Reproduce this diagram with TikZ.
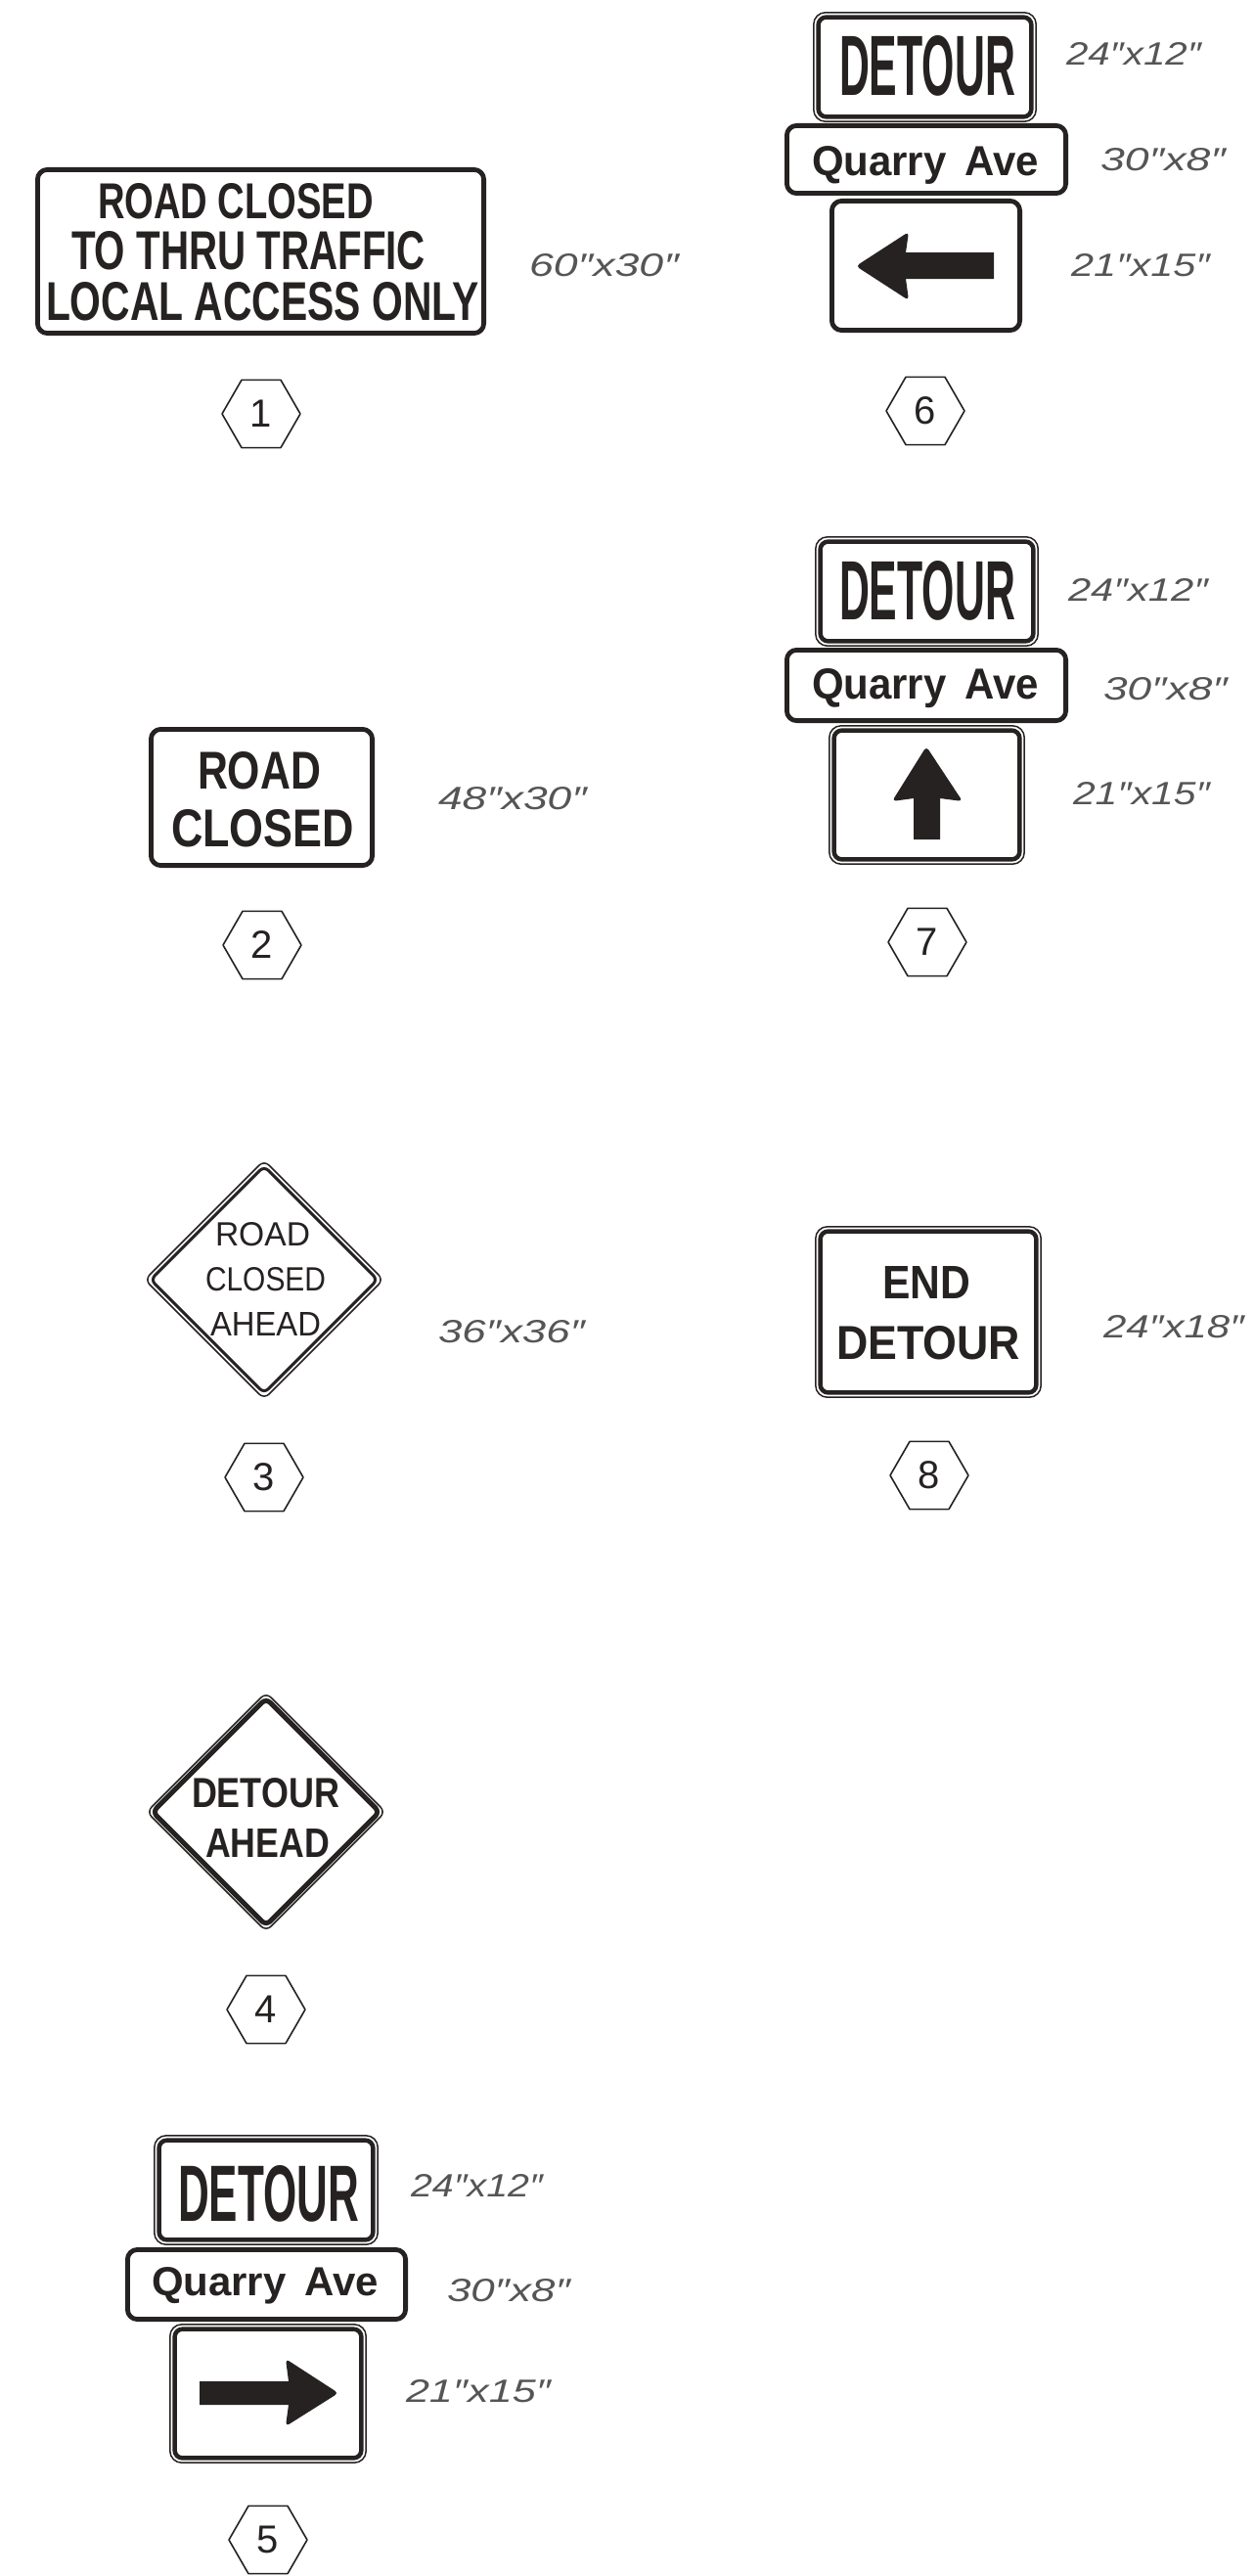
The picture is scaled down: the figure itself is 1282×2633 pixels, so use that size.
\documentclass[tikz,border=0pt]{standalone}
\usepackage{fontspec}
\setmainfont{Liberation Sans}
\usepackage{graphicx}
\usetikzlibrary{shapes.geometric}
\definecolor{ink}{RGB}{38,34,34}
\definecolor{dimink}{RGB}{85,85,85}
\newcommand{\fitb}[3]{\resizebox{#1pt}{#2pt}{\bfseries #3}}
\newcommand{\fitr}[3]{\resizebox{#1pt}{#2pt}{#3}}
\newcommand{\fiti}[3]{\resizebox{#1pt}{#2pt}{\itshape #3}}
% single thick frame, outer edge given
\newcommand{\signsgl}[4]{\draw[thickframe] ({#1+2.4},{#2+2.4}) rectangle ({#3-2.4},{#4-2.4});}
% double frame, outer edge given
\newcommand{\signdbl}[4]{%
  \draw[thinframe] ({#1+0.8},{#2+0.8}) rectangle ({#3-0.8},{#4-0.8});
  \draw[innerframe] ({#1+5.6},{#2+5.6}) rectangle ({#3-5.6},{#4-5.6});}
% diamond: centre, inner line width
\newcommand{\signdiamond}[3]{%
  \draw[draw=ink,line width=1.5pt,rounded corners=7pt] ({#1-122},#2) -- (#1,{#2-122}) -- ({#1+122},#2) -- (#1,{#2+122}) -- cycle;
  \draw[draw=ink,line width=#3,rounded corners=6pt] ({#1-116},#2) -- (#1,{#2-116}) -- ({#1+116},#2) -- (#1,{#2+116}) -- cycle;}
\begin{document}
\begin{tikzpicture}[x=1pt,y=-1pt,line join=round,
  signtxt/.style={inner sep=0pt,outer sep=0pt,anchor=base west,text=ink},
  dimtxt/.style={inner sep=0pt,outer sep=0pt,anchor=base west,text=dimink},
  thickframe/.style={draw=ink,line width=4.8pt,rounded corners=10pt},
  thinframe/.style={draw=ink,line width=1.5pt,rounded corners=12pt},
  innerframe/.style={draw=ink,line width=4.5pt,rounded corners=8pt},
  hexnum/.style={draw=ink,line width=1.6pt,regular polygon,regular polygon sides=6,
    minimum size=80pt,inner sep=0pt,font=\fontsize{40}{44}\selectfont,text=ink},
  arrowfill/.style={fill=ink}]
\fill[white] (0,0) rectangle (1282,2633);
\useasboundingbox (0,0) rectangle (1282,2633);

% ---------------- Sign 1
\signsgl{36}{171}{497}{343}
\node[signtxt] (s1a) at (100,223) {\fitb{282}{36}{ROAD CLOSED}};
\node[signtxt] (s1b) at (73,275) {\fitb{362}{39}{TO THRU TRAFFIC}};
\node[signtxt] (s1c) at (47,327) {\fitb{443}{39}{LOCAL ACCESS ONLY}};
\node[dimtxt] (d1) at (541,282) {\fiti{153}{23}{60″x30″}};
\node[hexnum] (h1) at (267,423) {1};

% ---------------- Sign 2
\signsgl{152}{743}{383}{887}
\node[signtxt] (s2a) at (202,806) {\fitb{126}{38}{ROAD}};
\node[signtxt] (s2b) at (175,865) {\fitb{187}{38}{CLOSED}};
\node[dimtxt] (d2) at (448,827) {\fiti{152}{23}{48″x30″}};
\node[hexnum] (h2) at (268,966) {2};

% ---------------- Sign 3
\signdiamond{270}{1308}{3pt}
\node[signtxt] (s3a) at (220,1273) {\fitr{97}{24}{ROAD}};
\node[signtxt] (s3b) at (210,1319) {\fitr{123}{24}{CLOSED}};
\node[signtxt] (s3c) at (215,1365) {\fitr{113}{24}{AHEAD}};
\node[dimtxt] (d3) at (448,1372) {\fiti{150}{23}{36″x36″}};
\node[hexnum] (h3) at (270,1510) {3};

% ---------------- Sign 4
\signdiamond{272}{1852}{5pt}
\node[signtxt] (s4a) at (196,1847) {\fitb{151}{30}{DETOUR}};
\node[signtxt] (s4b) at (210,1898) {\fitb{127}{29}{AHEAD}};
\node[hexnum] (h4) at (272,2054) {4};

% ---------------- Sign 5 assembly
\signdbl{157}{2182}{387}{2295}
\node[signtxt] (s5a) at (182,2270) {\fitb{185}{57}{DETOUR}};
\signsgl{128}{2297}{417}{2373}
\node[signtxt] (s5b) at (155,2346) {\fitb{232}{29}{Quarry\hspace{0.45em}Ave}};
\signdbl{173}{2375}{375}{2518}
\fill[arrowfill] (204,2434) -- (295,2434) [rounded corners=4pt] -- (292,2411) -- (346,2446) -- (292,2480) [sharp corners] -- (295,2458) -- (204,2458) -- cycle;
\node[dimtxt] (d5a) at (420,2245) {\fiti{135}{23}{24″x12″}};
\node[dimtxt] (d5b) at (457,2352) {\fiti{126}{23}{30″x8″}};
\node[dimtxt] (d5c) at (415,2455) {\fiti{148}{23}{21″x15″}};
\node[hexnum] (h5) at (274,2596) {5};

% ---------------- Sign 6 assembly
\signdbl{831}{12}{1060}{125}
\node[signtxt] (s6a) at (858,98) {\fitb{180}{61}{DETOUR}};
\signsgl{802}{126}{1092}{200}
\node[signtxt] (s6b) at (830,180) {\fitb{232}{30}{Quarry\hspace{0.45em}Ave}};
\signsgl{848}{203}{1045}{340}
\fill[arrowfill] (1016,258) -- (926,258) [rounded corners=4pt] -- (929,237) -- (875,272) -- (929,307) [sharp corners] -- (926,285) -- (1016,285) -- cycle;
\node[dimtxt] (d6a) at (1090,67) {\fiti{138}{23}{24″x12″}};
\node[dimtxt] (d6b) at (1125,175) {\fiti{128}{23}{30″x8″}};
\node[dimtxt] (d6c) at (1095,282) {\fiti{142}{23}{21″x15″}};
\node[hexnum] (h6) at (946,420) {6};

% ---------------- Sign 7 assembly
\signdbl{833}{548}{1062}{661}
\node[signtxt] (s7a) at (858,633) {\fitb{180}{60}{DETOUR}};
\signsgl{802}{662}{1092}{739}
\node[signtxt] (s7b) at (830,714) {\fitb{232}{31}{Quarry\hspace{0.45em}Ave}};
\signdbl{847}{741}{1048}{884}
\fill[arrowfill] (934,858) -- (934,816) [rounded corners=4pt] -- (912,819) -- (947,763) -- (984,819) [sharp corners] -- (961,816) -- (961,858) -- cycle;
\node[dimtxt] (d7a) at (1092,614) {\fiti{143}{23}{24″x12″}};
\node[dimtxt] (d7b) at (1128,715) {\fiti{127}{23}{30″x8″}};
\node[dimtxt] (d7c) at (1097,822) {\fiti{140}{23}{21″x15″}};
\node[hexnum] (h7) at (948,963) {7};

% ---------------- Sign 8
\signdbl{833}{1253}{1065}{1429}
\node[signtxt] (s8a) at (902,1327) {\fitb{90}{33}{END}};
\node[signtxt] (s8b) at (855,1389) {\fitb{188}{34}{DETOUR}};
\node[dimtxt] (d8) at (1128,1367) {\fiti{144}{23}{24″x18″}};
\node[hexnum] (h8) at (950,1508) {8};
\end{tikzpicture}
\end{document}
